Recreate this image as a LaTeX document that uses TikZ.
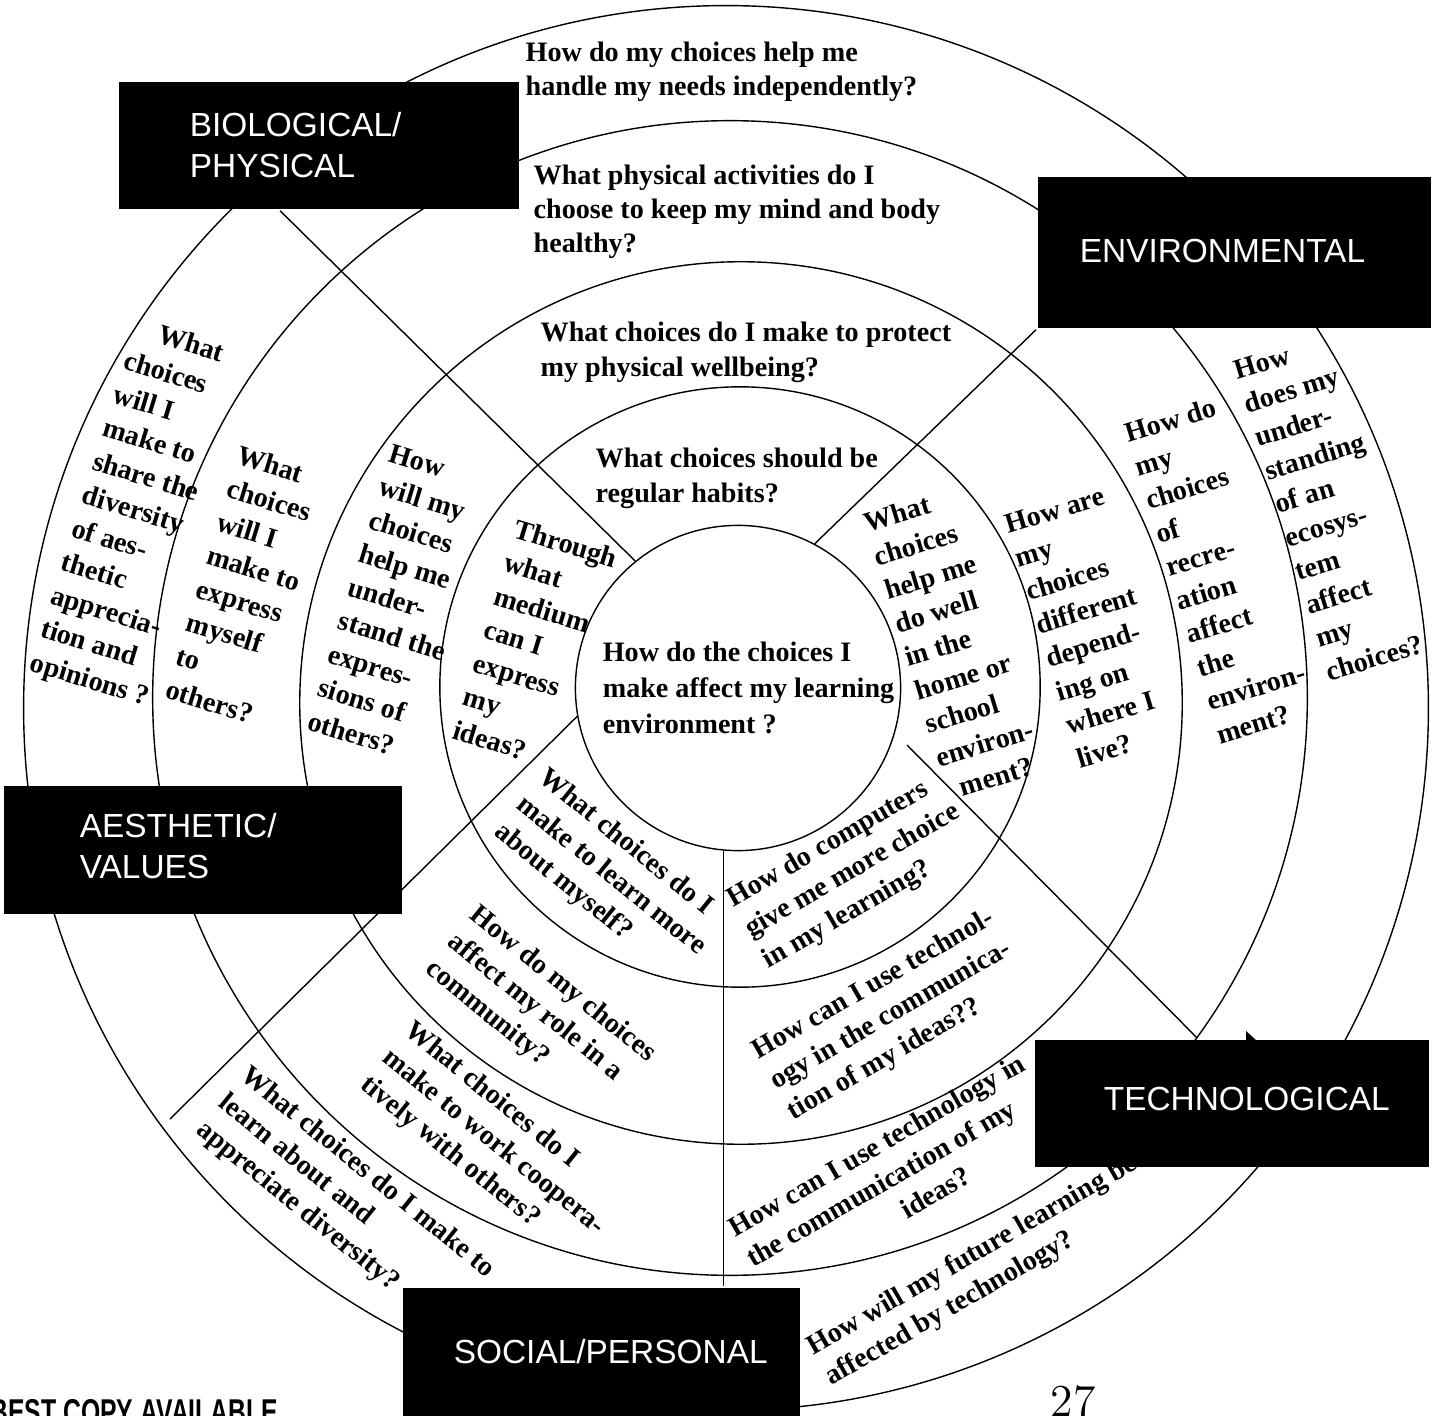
\documentclass[tikz,border=0pt]{standalone}
\usepackage{fontspec}
\newfontfamily\qfont{Liberation Serif}
\newfontfamily\labfont{Liberation Sans}
\pgfdeclarelayer{bg}
\pgfsetlayers{bg,main}
\tikzset{
  ask/.style={font=\qfont\bfseries\fontsize{8}{10}\selectfont, inner sep=0pt, anchor=base west},
  box/.style={fill=black, inner sep=0pt, anchor=north west},
  lab/.style={text=white, font=\labfont\fontsize{9.5}{11.6}\selectfont, align=left, inner sep=0pt, anchor=west},
}
\begin{document}
\begin{tikzpicture}[x=0.01cm, y=-0.01cm, line width=1.05pt]
\useasboundingbox (0,0) rectangle (1440,1416);
% the five boxes
\node[box, minimum width=4cm, minimum height=1.27cm] (bio) at (117,80) {};
\node[box, minimum width=3.93cm, minimum height=1.51cm] (env) at (1036,175) {};
\node[box, minimum width=3.98cm, minimum height=1.28cm] (aes) at (2,784) {};
\node[box, minimum width=3.94cm, minimum height=1.27cm] (tech) at (1033,1038) {};
\node[box, minimum width=3.97cm, minimum height=1.31cm] (social) at (401,1286) {};
\fill (1246,1031) -- (1246,1040) -- (1256,1040) -- cycle;
\node[lab] (bio-t) at (188,145) {BIOLOGICAL/\\PHYSICAL};
\node[lab] (env-t) at (1078,251) {ENVIRONMENTAL};
\node[lab] (aes-t) at (78,846) {AESTHETIC/\\VALUES};
\node[lab] (tech-t) at (1102,1099) {TECHNOLOGICAL};
\node[lab] (social-t) at (452,1352) {SOCIAL/PERSONAL};

\begin{pgfonlayer}{bg}
% rings
\node[draw, circle, minimum size=3.16cm, inner sep=0pt, align=left,
  font=\qfont\bfseries\fontsize{8}{10.3}\selectfont] (core) at (738,688)
  {\hspace*{6pt}How do the choices I\\\hspace*{6pt}make affect my learning\\\hspace*{6pt}environment ?};
\draw (740,687) circle [radius=3cm];
\draw (741,703) circle [radius=4.41cm];
\draw (730,698) circle [radius=5.77cm];
\draw (726,708) circle [radius=7.02cm];
% spokes
\coordinate (aesend) at (170,1119);
\coordinate (techstart) at (907,745);
\draw ([xshift=1.63cm]bio.south west) -- (core.129);
\draw (env.south west) -- (core.62);
\draw (core.190) -- (aesend);
\draw (core.265) -- (core.265 |- social.north);
\draw (techstart) -- ([xshift=1.64cm]tech.north west);

% top sector
\foreach \t [count=\i from 0] in {How do my choices help me,handle my needs independently?}
  \node[ask] (h5-\i) at (525,{62+\i*34}) {\t};
\foreach \t [count=\i from 0] in {What physical activities do I,choose to keep my mind and body,healthy?}
  \node[ask] (h4-\i) at (533,{185+\i*34}) {\t};
\foreach \t [count=\i from 0] in {What choices do I make to protect,my physical wellbeing?}
  \node[ask] (h3-\i) at (540,{342+\i*35}) {\t};
\foreach \t [count=\i from 0] in {What choices should be,regular habits?}
  \node[ask] (h2-\i) at (595,{468+\i*34}) {\t};

% left sector
\foreach \t [count=\i from 0] in {\hspace*{7pt}What,choices,will I,make to,share the,diversity,of aes-,thetic,apprecia-,tion and,opinions ?}
  \node[ask, rotate=-17] (a5-\i) at ({132-\i*10.4},{335+\i*33.5}) {\t};
\foreach \t [count=\i from 0] in {What,choices,will I,make to,express,myself,to,others?}
  \node[ask, rotate=-17] (a4-\i) at ({235-\i*10.2},{463+\i*33.5}) {\t};
\foreach \t [count=\i from 0] in {How,will my,choices,help me,under-,stand the,expres-,sions of,others?}
  \node[ask, rotate=-17] (a3-\i) at ({387-\i*10.2},{461+\i*33.5}) {\t};
\foreach \t [count=\i from 0] in {Through,what,medium,can I,express,my,ideas?}
  \node[ask, rotate=-17] (a2-\i) at ({512-\i*10.2},{537+\i*33.5}) {\t};

% right sector
\foreach \t [count=\i from 0] in {What,choices,help me,do well,in the,home or,school,environ-,\hspace*{4pt}ment?}
  \node[ask, rotate=17] (e2-\i) at ({867+\i*10.2},{533+\i*33.5}) {\t};
\foreach \t [count=\i from 0] in {How are,my,choices,different,depend-,ing on,where I,live?}
  \node[ask, rotate=17] (e3-\i) at ({1008+\i*10.2},{534+\i*33.5}) {\t};
\foreach \t [count=\i from 0] in {How do,my,choices,of,recre-,ation,affect,the,environ-,ment?}
  \node[ask, rotate=17] (e4-\i) at ({1128+\i*10.2},{443+\i*33.5}) {\t};
\foreach \t [count=\i from 0] in {How,does my,under-,standing,of an,ecosys-,tem,affect,my,choices?}
  \node[ask, rotate=17] (e5-\i) at ({1237+\i*10.2},{380+\i*33.5}) {\t};

% lower left sector
\foreach \t [count=\i from 0] in {What choices do I,make to learn more,about myself?}
  \node[ask, rotate=-39] (s2-\i) at ({537-\i*22},{780+\i*27.2}) {\t};
\foreach \t [count=\i from 0] in {How do my choices,affect my role in a,community?}
  \node[ask, rotate=-39] (s3-\i) at ({468-\i*22},{917+\i*27.2}) {\t};
\foreach \t [count=\i from 0] in {What choices do I,make to work coopera-,tively with others?}
  \node[ask, rotate=-39] (s4-\i) at ({403-\i*22},{1033+\i*27.2}) {\t};
\foreach \t [count=\i from 0] in {What choices do I make to,learn about and,appreciate diversity?}
  \node[ask, rotate=-39] (s5-\i) at ({239-\i*22},{1078+\i*27.2}) {\t};

% lower right sector
\foreach \t [count=\i from 0] in {How do computers,give me more choice,in my learning?}
  \node[ask, rotate=30] (t2-\i) at ({733+\i*17.5},{908+\i*30.3}) {\t};
\foreach \t [count=\i from 0] in {How can I use technol-,ogy in the communica-,tion of my ideas??}
  \node[ask, rotate=30] (t3-\i) at ({758+\i*17.5},{1060+\i*30.3}) {\t};
\foreach \t [count=\i from 0] in {How can I use technology in,the communication of my,\hspace*{45pt}ideas?}
  \node[ask, rotate=30] (t4-\i) at ({735+\i*17.5},{1238+\i*30.3}) {\t};
\foreach \t [count=\i from 0] in {How will my future learning be,affected by technology?}
  \node[ask, rotate=30] (t5-\i) at ({813+\i*17.5},{1356+\i*30.3}) {\t};

% page marks
\node[font=\labfont\bfseries\fontsize{10.2}{12}\selectfont, xscale=0.69, inner sep=0pt, anchor=base west] (stamp) at (-10,1424) {BEST COPY AVAILABLE};
\node[font=\fontsize{13}{15}\selectfont, inner sep=0pt, anchor=base west] (pageno) at (1050,1416) {27};
\end{pgfonlayer}
\end{tikzpicture}
\end{document}
